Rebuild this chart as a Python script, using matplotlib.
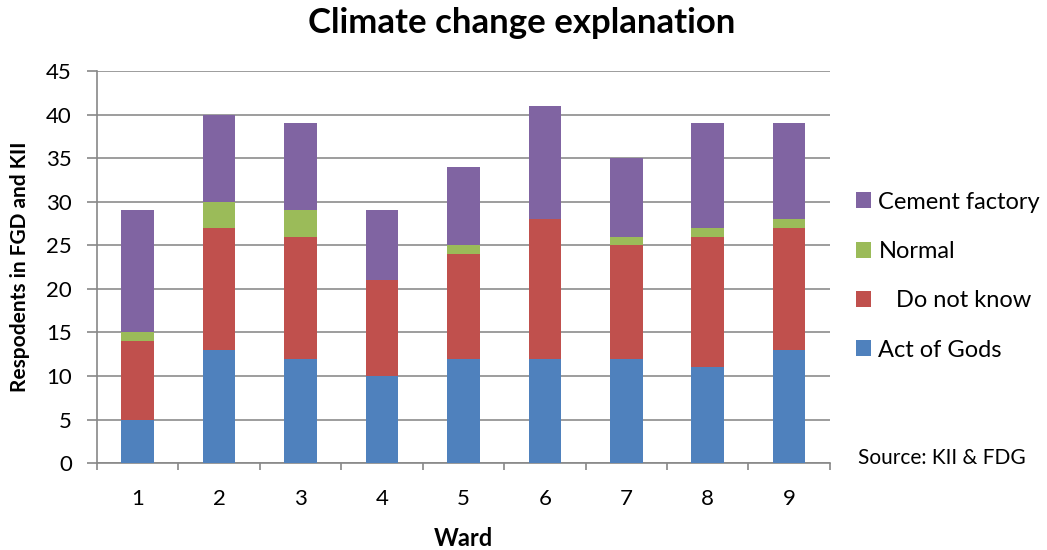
import numpy as np
import matplotlib.pyplot as plt

plt.rcParams['font.family'] = ['Lato', 'DejaVu Sans']

wards = ['1', '2', '3', '4', '5', '6', '7', '8', '9']
act_of_gods = [5, 13, 12, 10, 12, 12, 12, 11, 13]
do_not_know = [9, 14, 14, 11, 12, 16, 13, 15, 14]
normal = [1, 3, 3, 0, 1, 0, 1, 1, 1]
cement_factory = [14, 10, 10, 8, 9, 13, 9, 12, 11]

series = [
    ('Act of Gods', act_of_gods, '#4F81BD'),
    ('   Do not know', do_not_know, '#C0504D'),
    ('Normal', normal, '#9BBB59'),
    ('Cement factory', cement_factory, '#8064A2'),
]

fig = plt.figure(figsize=(10.47, 5.5), dpi=100)
ax = fig.add_axes([0.0926, 0.158, 0.7, 0.713])

x = np.arange(1, len(wards) + 1)
bottom = np.zeros(len(wards))
handles = []
for label, vals, color in series:
    b = ax.bar(x, vals, width=0.4, bottom=bottom, color=color, label=label, zorder=3)
    handles.append(b)
    bottom += np.array(vals)

ax.set_ylim(0, 45)
ax.set_yticks(range(0, 46, 5))
ax.set_xlim(0.5, len(wards) + 0.5)
ax.set_xticks(x)
ax.set_xticklabels(wards)
ax.set_xticks(np.arange(0.5, len(wards) + 1, 1), minor=True)
ax.tick_params(axis='x', which='major', length=0, labelsize=16, pad=19)
ax.tick_params(axis='x', which='minor', length=5, color='#888888', width=1.2)
ax.tick_params(axis='y', length=7, color='#888888', width=1.2, labelsize=16, pad=11)

ax.grid(axis='y', color='#8c8c8c', linewidth=1.2, zorder=0)
for s in ['top', 'right']:
    ax.spines[s].set_visible(False)
for s in ['left', 'bottom']:
    ax.spines[s].set_color('#888888')
    ax.spines[s].set_linewidth(1.2)

ax.set_xlabel('Ward', fontsize=17, fontweight='bold')
ax.xaxis.set_label_coords(0.5, -0.163)
ax.set_ylabel('Respodents in FGD and KII', fontsize=15, fontweight='bold')
ax.yaxis.set_label_coords(-0.092, 0.5)
fig.suptitle('Climate change explanation', fontsize=25, fontweight='bold', x=0.498, y=0.988)

ax.legend(handles[::-1], [h.get_label() for h in handles[::-1]],
          loc='center left', bbox_to_anchor=(0.8176, 0.498),
          bbox_transform=fig.transFigure, frameon=False,
          borderpad=0, borderaxespad=0,
          fontsize=17, handlelength=0.65, handleheight=0.65, handletextpad=0.3,
          labelspacing=1.2)

fig.text(0.8195, 0.168, 'Source: KII & FDG', fontsize=15, ha='left', va='center')

fig.savefig('out.png', dpi=100)
